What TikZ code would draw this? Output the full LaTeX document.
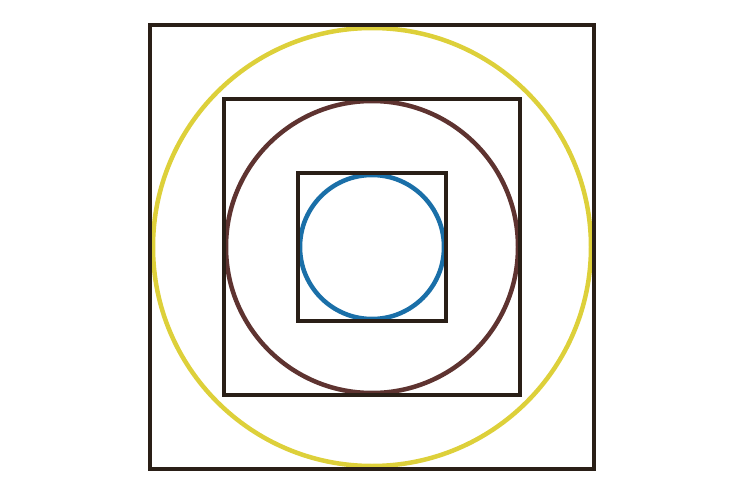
\documentclass[tikz,border=0pt]{standalone}
\usepackage{tikz}
\usetikzlibrary{calc}
\definecolor{frameink}{HTML}{2A1F17}
\definecolor{ringyellow}{HTML}{DDD03A}
\definecolor{ringbrown}{HTML}{5E3330}
\definecolor{ringblue}{HTML}{1A6FA8}
\tikzset{frame/.style={draw=frameink, line width=4.5pt}}
\tikzset{ring/.style={line width=4.5pt}}

\begin{document}
\begin{tikzpicture}[x=1pt,y=-1pt]
  \useasboundingbox (0,0) rectangle (742,495);
  \coordinate (c) at (372,247);

  \foreach \s/\r/\col in {222/219/ringyellow, 148/146/ringbrown, 74/72/ringblue}{
               \draw[ring, \col] (c) circle (\r);
               \draw[frame] ($(c)+(-\s,-\s)$) rectangle ($(c)+(\s,\s)$);
};
\end{tikzpicture}
\end{document}
